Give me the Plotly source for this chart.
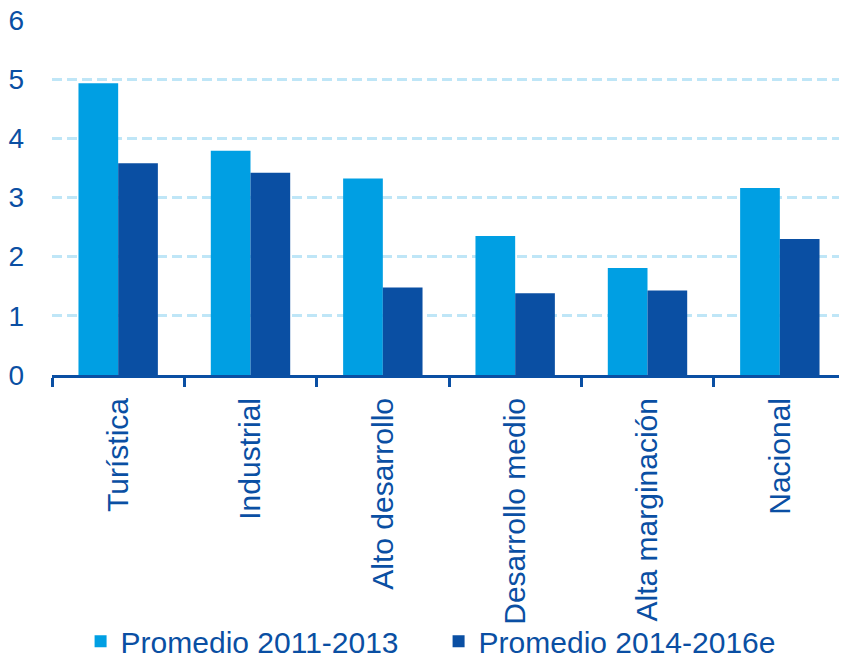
import plotly.graph_objects as go

categories = ["Turística", "Industrial", "Alto desarrollo", "Desarrollo medio",
              "Alta marginación", "Nacional"]
prom_2011_2013 = [4.93, 3.79, 3.32, 2.35, 1.81, 3.16]
prom_2014_2016e = [3.58, 3.42, 1.48, 1.38, 1.43, 2.30]

LIGHT = "#009FE3"
DARK = "#0A4FA3"
TEXT = "#0A4FA3"

fig = go.Figure()
fig.add_trace(go.Bar(x=categories, y=prom_2011_2013, name="Promedio 2011-2013",
                     marker=dict(color=LIGHT, line=dict(width=0))))
fig.add_trace(go.Bar(x=categories, y=prom_2014_2016e, name="Promedio 2014-2016e",
                     marker=dict(color=DARK, line=dict(width=0))))

# the page body adds an 8px offset, margins are set to compensate
fig.update_layout(
    width=847, height=661,
    margin=dict(l=44, r=9, t=12, b=294, autoexpand=False),
    plot_bgcolor="white", paper_bgcolor="white",
    barmode="group", bargap=0.40, bargroupgap=0,
    font=dict(family="Liberation Sans, Arial, sans-serif", size=30, color=TEXT),
    legend=dict(orientation="h", x=0.036, xanchor="left", y=-0.75, yanchor="middle",
                font=dict(size=30, color=TEXT), itemwidth=30, traceorder="normal",
                entrywidth=313, entrywidthmode="pixels",
                bgcolor="rgba(0,0,0,0)"),
)
fig.update_yaxes(range=[0, 6], dtick=1, showgrid=True, gridcolor="#BFE6F7",
                 griddash="10px,5px", gridwidth=3, zeroline=False, showline=False,
                 automargin=False, ticklabelstandoff=27, ticklabeloverflow="allow",
                 tickfont=dict(size=28, color=TEXT))
fig.update_xaxes(showline=True, linecolor=DARK, linewidth=3,
                 ticks="outside", tickson="boundaries", ticklen=9, tickwidth=3,
                 tickcolor=DARK, automargin=False, tickangle=-90,
                 ticklabelstandoff=8, ticklabeloverflow="allow",
                 tickfont=dict(size=30, color=TEXT))

fig.write_html("out.html")
